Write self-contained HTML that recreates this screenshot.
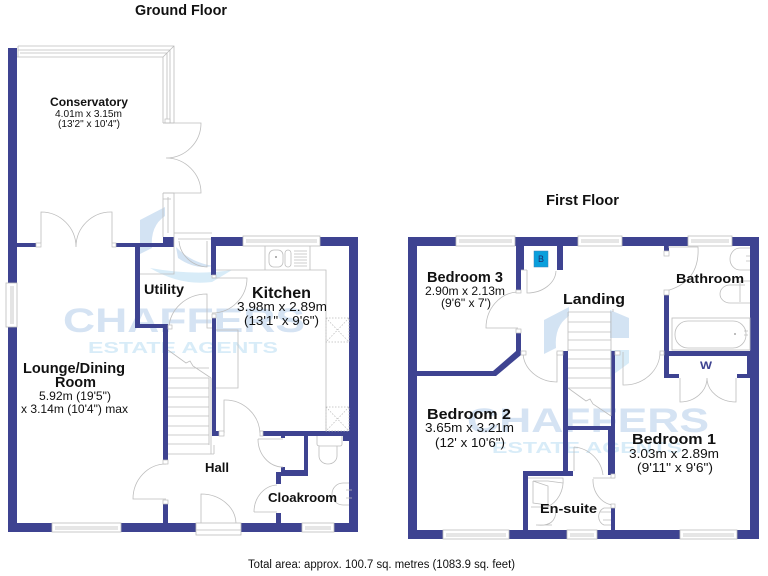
<!DOCTYPE html>
<html><head><meta charset="utf-8"><style>
html,body{margin:0;padding:0;background:#fff;width:768px;height:576px;overflow:hidden}
svg{display:block}
text{font-family:"Liberation Sans",sans-serif;fill:#111}
.b{font-weight:bold}
.l{fill:none;stroke:#bdbdbd;stroke-width:.8}
.win{fill:#fff;stroke:#bdbdbd;stroke-width:.8}
.j{fill:#fff;stroke:#bbb;stroke-width:.7}
.wall{fill:#3e4391}
</style></head><body>
<svg width="768" height="576" viewBox="0 0 768 576" xmlns="http://www.w3.org/2000/svg">
<!-- watermarks -->
<g>
<path d="M140,220 L165,207 L165,216 Q150,226 152,248 L140,254Z" fill="#d3e3f3"/>
<path d="M176,247 Q190,262 213,266 Q195,270 178,258Z" fill="#d3e3f3"/>
<path d="M150,268 Q195,276 232,270 L212,282 Q180,286 150,268Z" fill="#d8ecf8"/>
<text x="63" y="332" font-size="34" class="b" textLength="242" lengthAdjust="spacingAndGlyphs" style="fill:#d5e3f3">CHAFFERS</text>
<text x="88" y="353" font-size="16" class="b" textLength="190" lengthAdjust="spacingAndGlyphs" style="fill:#d8ecf8">ESTATE AGENTS</text>
</g>
<g transform="translate(404,100)">
<path d="M140,220 L165,207 L165,216 Q150,226 152,248 L140,254Z" fill="#d3e3f3"/>
<path d="M206,210 L225,218 L225,238 L206,238Z" fill="#d3e3f3"/>
<path d="M206,250 L225,250 L225,263 L206,277Z" fill="#d8ecf8"/>
<text x="63" y="332" font-size="34" class="b" textLength="242" lengthAdjust="spacingAndGlyphs" style="fill:#d5e3f3">CHAFFERS</text>
<text x="88" y="353" font-size="16" class="b" textLength="190" lengthAdjust="spacingAndGlyphs" style="fill:#d8ecf8">ESTATE AGENTS</text>
</g>

<!-- GROUND walls -->
<g class="wall">
<rect x="8" y="48" width="9" height="235"/>
<rect x="8" y="327" width="9" height="205"/>
<rect x="8" y="523" width="44" height="9"/>
<rect x="121" y="523" width="75" height="9"/>
<rect x="241" y="523" width="61" height="9"/>
<rect x="334" y="523" width="24" height="9"/>
<rect x="349" y="237" width="9" height="295"/>
<rect x="320" y="237" width="38" height="9"/>
<rect x="211" y="237" width="32" height="9"/>
<rect x="211" y="237" width="5" height="38"/>
<rect x="17" y="243" width="19" height="4"/>
<rect x="116" y="243" width="50" height="4"/>
<rect x="163" y="237" width="11" height="10"/>
<rect x="135" y="243" width="5" height="85"/>
<rect x="135" y="324" width="33" height="4"/>
<rect x="163" y="324" width="5" height="136"/>
<rect x="163" y="504" width="5" height="19"/>
<rect x="212" y="318" width="4" height="115"/>
<rect x="212" y="431" width="7" height="5"/>
<rect x="263" y="431" width="95" height="5"/>
<rect x="343" y="431" width="6" height="10"/>
<rect x="304" y="431" width="4" height="45"/>
<rect x="281" y="470" width="27" height="6"/>
<rect x="276" y="472" width="5" height="12"/>
<rect x="281" y="467" width="4" height="4"/>
<rect x="281" y="436" width="4" height="2"/>
<rect x="276" y="513" width="5" height="10"/>
</g>
<!-- conservatory frame -->
<path class="l" d="M18,46 H174 V123 M18,50 H170 V123 M20,53 H167 V123 M17,57 H163 V123 M163,123 H174 M163,57 L174,46 M18,46 V57"/>
<path class="l" d="M163,193 H174 V233 M163,193 V237 M168,197 V233 M163,199 H171"/>
<rect class="j" x="165" y="119" width="5" height="4"/>
<!-- conservatory doors -->
<path class="l" d="M163,123 H201 A35,35 0 0 1 166,158 A35,35 0 0 1 201,193 H163"/>
<path class="l" d="M41,243 V212 A35,35 0 0 1 76,247 M112,243 V212 A35,35 0 0 0 76,247"/>
<rect class="j" x="36" y="243" width="5" height="4"/><rect class="j" x="112" y="243" width="4" height="4"/>
<!-- utility -->
<path class="l" d="M174,233 H212 M174,233 V247 M178,239 H211 M179,241 A30,28 0 0 0 207,267 V241"/>
<path class="l" d="M140,274 H174 V247"/>
<path class="l" d="M169,328 A38,35 0 0 1 207,294 V328 H212"/>
<rect class="j" x="168" y="325" width="4" height="4"/>
<rect class="j" x="212" y="275" width="4" height="3"/><rect class="j" x="212" y="314" width="4" height="4"/>
<!-- kitchen -->
<path class="l" d="M212,278 H247 A35,35 0 0 1 212,313"/>
<path class="l" d="M216,330 H238 V388 H216"/>
<path class="l" d="M216,270 H326 V431"/>
<path class="l" d="M265,246 V270 M310,246 V270"/>
<rect class="l" x="269" y="250" width="14" height="17" rx="5"/>
<rect class="l" x="285" y="250" width="6" height="17" rx="3"/>
<path class="l" d="M294,251 H307 M294,254 H307 M294,257 H307 M294,260 H307 M294,263 H307 M294,266 H307"/>
<circle cx="276" cy="257" r="1" fill="#999"/>
<path d="M326,318 H349 V342 H326Z M326,318 L349,342 M349,318 L326,342 M326,407 H349 V431 H326Z M326,407 L349,431 M349,407 L326,431" fill="none" stroke="#bbb" stroke-width=".7" stroke-dasharray="1.5 1.5"/>
<!-- hall doors -->
<path class="l" d="M224,433 V400 A35,35 0 0 1 260,433"/>
<rect class="j" x="219" y="431" width="5" height="5"/><rect class="j" x="260" y="431" width="3" height="5"/>
<path class="l" d="M258,439 H283 M258,439 A25,28 0 0 0 283,467"/>
<path class="l" d="M254,512 H277 M254,512 A24,27 0 0 1 277,485"/>
<path class="l" d="M166,464 A33,35 0 0 0 133,499 H166"/>
<rect class="j" x="163" y="460" width="5" height="4"/><rect class="j" x="163" y="500" width="5" height="4"/>
<path class="l" d="M201,523 V494 A35,30 0 0 1 236,523"/>
<!-- WC / basin -->
<path class="l" d="M317,436 V444 Q317,446 320,446 H340 Q342,446 342,444 V436 M319,446 V456 A9,8 0 0 0 337,456 V446"/>
<path class="l" d="M349,483 H343 A11,11 0 0 0 343,505 H349 M346,490 H352 M346,498 H352"/>
<!-- stairs -->
<path class="l" d="M168,350 L186,363 L190,361 L193,366 L211,378 M211,378 V454 M209,378 V445 M214,445 V454 M168,368 H209 M168,378 H209 M168,388 H209 M168,397 H209 M168,407 H209 M168,416 H209 M168,426 H209 M168,435 H209 M168,444 H209 M168,454 H214"/>
<!-- ground windows -->
<rect class="win" x="243" y="236" width="77" height="10"/><path class="l" d="M246,240 H317 M246,242 H317"/>
<rect class="win" x="52" y="523" width="69" height="9"/><path class="l" d="M55,527 H118 M55,529 H118"/>
<rect class="win" x="302" y="523" width="32" height="9"/><path class="l" d="M305,527 H331 M305,529 H331"/>
<rect class="win" x="6" y="283" width="11" height="44"/><path class="l" d="M11,286 V324 M13,286 V324"/>
<rect class="win" x="196" y="523" width="45" height="12"/><path class="l" d="M196,530 H241"/>

<!-- FIRST walls -->
<g class="wall">
<rect x="408" y="237" width="9" height="302"/>
<rect x="408" y="237" width="48" height="9"/>
<rect x="515" y="237" width="63" height="9"/>
<rect x="622" y="237" width="66" height="9"/>
<rect x="732" y="237" width="27" height="9"/>
<rect x="750" y="237" width="9" height="302"/>
<rect x="408" y="530" width="35" height="9"/>
<rect x="509" y="530" width="58" height="9"/>
<rect x="597" y="530" width="83" height="9"/>
<rect x="737" y="530" width="22" height="9"/>
<rect x="516" y="246" width="8" height="24"/>
<rect x="516" y="270" width="5" height="20"/>
<rect x="557" y="246" width="6" height="24"/>
<path d="M516,333 H521 V355 L496,376 H417 V371 H493 L516,351Z"/>
<rect x="563" y="351" width="5" height="122"/>
<rect x="523" y="471" width="50" height="5"/>
<rect x="523" y="471" width="5" height="60"/>
<rect x="568" y="426" width="45" height="4"/>
<rect x="611" y="351" width="4" height="124"/>
<rect x="608" y="430" width="7" height="45"/>
<rect x="611" y="507" width="4" height="23"/>
<rect x="664" y="295" width="5" height="83"/>
<rect x="664" y="246" width="5" height="5"/>
<rect x="669" y="351" width="81" height="5"/>
<rect x="664" y="374" width="15" height="4"/>
<rect x="737" y="374" width="13" height="4"/>
<rect x="747" y="355" width="6" height="23"/>
</g>
<!-- first windows -->
<rect class="win" x="456" y="236" width="59" height="10"/><path class="l" d="M459,240 H512 M459,242 H512"/>
<rect class="win" x="578" y="236" width="44" height="10"/><path class="l" d="M581,240 H619 M581,242 H619"/>
<rect class="win" x="688" y="236" width="44" height="10"/><path class="l" d="M691,240 H729 M691,242 H729"/>
<rect class="win" x="443" y="530" width="66" height="9"/><path class="l" d="M446,534 H506 M446,536 H506"/>
<rect class="win" x="567" y="530" width="30" height="9"/><path class="l" d="M570,534 H594 M570,536 H594"/>
<rect class="win" x="680" y="530" width="57" height="9"/><path class="l" d="M683,534 H734 M683,536 H734"/>
<!-- cupboard -->
<rect x="534" y="251" width="14" height="16" fill="#0a9fdc" stroke="#3e7fb5" stroke-width=".5"/>
<text x="538" y="262" font-size="9" style="fill:#1c2f70">B</text>
<path class="l" d="M527,270 V293 A29,23 0 0 0 556,271 M521,270 H527"/>
<path class="l" d="M517,292 A33,36 0 0 0 486,328 H518"/>
<rect class="j" x="516" y="290" width="5" height="3"/><rect class="j" x="516" y="329" width="5" height="4"/>
<path class="l" d="M523,352 A34,30 0 0 0 557,382 V352"/>
<rect class="j" x="521" y="351" width="5" height="4"/><rect class="j" x="557" y="351" width="6" height="4"/>
<!-- first stairs -->
<path class="l" d="M568,312 H611 V416 M613,309 V312 M568,312 V351 M568,322 H611 M568,332 H611 M568,340 H611 M568,350 H611 M568,359 H611 M568,368 H611 M568,378 H611 M568,388 H611 M568,388 L586,401 L590,399 L593,404 L611,416"/>
<!-- bed1 door -->
<path class="l" d="M623,352 V385 A36,33 0 0 0 660,352"/>
<rect class="j" x="615" y="351" width="5" height="4"/><rect class="j" x="660" y="351" width="4" height="4"/>
<!-- bathroom -->
<path class="l" d="M668,247 H698 Q700,282 666,291"/>
<rect class="j" x="664" y="251" width="5" height="5"/><rect class="j" x="664" y="290" width="5" height="5"/>
<path class="l" d="M750,248 H740 A10,11 0 0 0 740,270 H750 M746,256 H750 M746,261 H750"/>
<path class="l" d="M740,281 H750 M740,281 V302 M745,285 H730 A10,9 0 0 0 730,303 H740 M750,303 H740"/>
<rect class="l" x="672" y="318" width="78" height="32"/>
<rect class="l" x="675" y="321" width="71" height="27" rx="13"/>
<path class="l" d="M744,331 H748 M744,335 H748"/>
<circle cx="735" cy="334" r="1" fill="#aaa"/>
<path class="l" d="M680,378 V402 A27,24 0 0 0 707,378 M736,378 V402 A29,24 0 0 1 707,378"/>
<!-- en-suite -->
<path class="l" d="M574,447 V471 M574,447 A32,32 0 0 1 603,475"/>
<path class="l" d="M593,478 H615 M593,479 A22,25 0 0 0 615,505"/>
<rect class="j" x="611" y="474" width="4" height="4"/><rect class="j" x="611" y="504" width="4" height="4"/>
<path class="l" d="M528,478 H563 A26,28 0 0 1 547,507 H531 M533,481 H548 L563,483 M533,481 V503 L548,505 V486 L533,481"/>
<path class="l" d="M611,508 H604 A8,9 0 0 0 604,525 H611 M600,512 H611 M603,520 H611"/>
<path class="l" d="M537,525 Q556,527 556,510 M536,525 H552"/>

<!-- TEXT -->
<text x="135" y="15" font-size="14.4" class="b" textLength="92" lengthAdjust="spacingAndGlyphs">Ground Floor</text>
<text x="546" y="205" font-size="14.5" class="b" textLength="73" lengthAdjust="spacingAndGlyphs">First Floor</text>
<text x="248" y="568" font-size="11.5" textLength="267" lengthAdjust="spacingAndGlyphs">Total area: approx. 100.7 sq. metres (1083.9 sq. feet)</text>

<text x="50" y="106" font-size="12" class="b" textLength="78" lengthAdjust="spacingAndGlyphs">Conservatory</text>
<text x="55" y="117" font-size="10.5" textLength="67" lengthAdjust="spacingAndGlyphs">4.01m x 3.15m</text>
<text x="58" y="127" font-size="10.5" textLength="62" lengthAdjust="spacingAndGlyphs">(13'2" x 10'4")</text>

<text x="23" y="373" font-size="14.5" class="b" textLength="102" lengthAdjust="spacingAndGlyphs">Lounge/Dining</text>
<text x="55" y="387" font-size="14.5" class="b" textLength="41" lengthAdjust="spacingAndGlyphs">Room</text>
<text x="39" y="400" font-size="12" textLength="72" lengthAdjust="spacingAndGlyphs">5.92m (19'5")</text>
<text x="21" y="413" font-size="12" textLength="107" lengthAdjust="spacingAndGlyphs">x 3.14m (10'4") max</text>

<text x="144" y="294" font-size="13.5" class="b" textLength="40" lengthAdjust="spacingAndGlyphs">Utility</text>
<text x="252" y="298" font-size="16" class="b" textLength="59" lengthAdjust="spacingAndGlyphs">Kitchen</text>
<text x="237" y="311" font-size="13" textLength="90" lengthAdjust="spacingAndGlyphs">3.98m x 2.89m</text>
<text x="244" y="325" font-size="13" textLength="75" lengthAdjust="spacingAndGlyphs">(13'1" x 9'6")</text>
<text x="205" y="472" font-size="13" class="b" textLength="24" lengthAdjust="spacingAndGlyphs">Hall</text>
<text x="268" y="502" font-size="13" class="b" textLength="69" lengthAdjust="spacingAndGlyphs">Cloakroom</text>

<text x="427" y="282" font-size="14.5" class="b" textLength="76" lengthAdjust="spacingAndGlyphs">Bedroom 3</text>
<text x="425" y="295" font-size="12" textLength="80" lengthAdjust="spacingAndGlyphs">2.90m x 2.13m</text>
<text x="441" y="307" font-size="12" textLength="50" lengthAdjust="spacingAndGlyphs">(9'6" x 7')</text>
<text x="563" y="304" font-size="15" class="b" textLength="62" lengthAdjust="spacingAndGlyphs">Landing</text>
<text x="676" y="283" font-size="13" class="b" textLength="68" lengthAdjust="spacingAndGlyphs">Bathroom</text>
<text x="700" y="369" font-size="11" class="b" textLength="12" lengthAdjust="spacingAndGlyphs" style="fill:#3e4391">W</text>
<text x="427" y="419" font-size="15" class="b" textLength="84" lengthAdjust="spacingAndGlyphs">Bedroom 2</text>
<text x="425" y="432" font-size="13" textLength="89" lengthAdjust="spacingAndGlyphs">3.65m x 3.21m</text>
<text x="435" y="447" font-size="13" textLength="70" lengthAdjust="spacingAndGlyphs">(12' x 10'6")</text>
<text x="540" y="513" font-size="13" class="b" textLength="57" lengthAdjust="spacingAndGlyphs">En-suite</text>
<text x="632" y="444" font-size="15" class="b" textLength="84" lengthAdjust="spacingAndGlyphs">Bedroom 1</text>
<text x="629" y="458" font-size="13" textLength="90" lengthAdjust="spacingAndGlyphs">3.03m x 2.89m</text>
<text x="637" y="472" font-size="13" textLength="76" lengthAdjust="spacingAndGlyphs">(9'11" x 9'6")</text>
</svg>
</body></html>
